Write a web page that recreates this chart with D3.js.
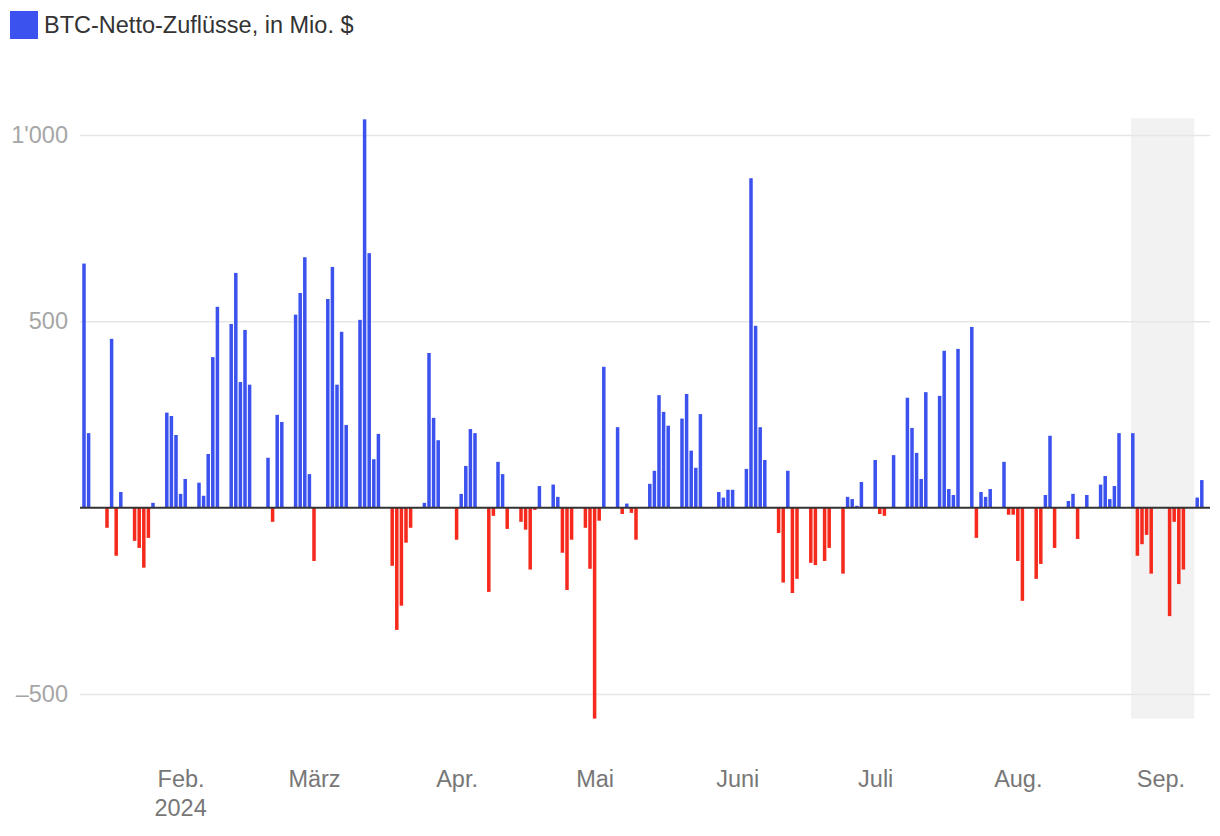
<!DOCTYPE html>
<html>
<head>
<meta charset="utf-8">
<script src="https://cdn.jsdelivr.net/npm/d3@7"></script>
<style>
  body { margin: 0; background: #fff; font-family: "Liberation Sans", Arial, sans-serif; }
</style>
</head>
<body>
<div class="bar-chart"></div>
<script>
// trading days (US spot BTC ETFs) and net flows in million $
var days = [
  "2024-01-11","2024-01-12","2024-01-16","2024-01-17","2024-01-18","2024-01-19",
  "2024-01-22","2024-01-23","2024-01-24","2024-01-25","2024-01-26",
  "2024-01-29","2024-01-30","2024-01-31","2024-02-01","2024-02-02",
  "2024-02-05","2024-02-06","2024-02-07","2024-02-08","2024-02-09",
  "2024-02-12","2024-02-13","2024-02-14","2024-02-15","2024-02-16",
  "2024-02-20","2024-02-21","2024-02-22","2024-02-23",
  "2024-02-26","2024-02-27","2024-02-28","2024-02-29","2024-03-01",
  "2024-03-04","2024-03-05","2024-03-06","2024-03-07","2024-03-08",
  "2024-03-11","2024-03-12","2024-03-13","2024-03-14","2024-03-15",
  "2024-03-18","2024-03-19","2024-03-20","2024-03-21","2024-03-22",
  "2024-03-25","2024-03-26","2024-03-27","2024-03-28",
  "2024-04-01","2024-04-02","2024-04-03","2024-04-04","2024-04-05",
  "2024-04-08","2024-04-09","2024-04-10","2024-04-11","2024-04-12",
  "2024-04-15","2024-04-16","2024-04-17","2024-04-18","2024-04-19",
  "2024-04-22","2024-04-23","2024-04-24","2024-04-25","2024-04-26",
  "2024-04-29","2024-04-30","2024-05-01","2024-05-02","2024-05-03",
  "2024-05-06","2024-05-07","2024-05-08","2024-05-09","2024-05-10",
  "2024-05-13","2024-05-14","2024-05-15","2024-05-16","2024-05-17",
  "2024-05-20","2024-05-21","2024-05-22","2024-05-23","2024-05-24",
  "2024-05-28","2024-05-29","2024-05-30","2024-05-31",
  "2024-06-03","2024-06-04","2024-06-05","2024-06-06","2024-06-07",
  "2024-06-10","2024-06-11","2024-06-12","2024-06-13","2024-06-14",
  "2024-06-17","2024-06-18","2024-06-20","2024-06-21",
  "2024-06-24","2024-06-25","2024-06-26","2024-06-27","2024-06-28",
  "2024-07-01","2024-07-02","2024-07-03","2024-07-05",
  "2024-07-08","2024-07-09","2024-07-10","2024-07-11","2024-07-12",
  "2024-07-15","2024-07-16","2024-07-17","2024-07-18","2024-07-19",
  "2024-07-22","2024-07-23","2024-07-24","2024-07-25","2024-07-26",
  "2024-07-29","2024-07-30","2024-07-31","2024-08-01","2024-08-02",
  "2024-08-05","2024-08-06","2024-08-07","2024-08-08","2024-08-09",
  "2024-08-12","2024-08-13","2024-08-14","2024-08-15","2024-08-16",
  "2024-08-19","2024-08-20","2024-08-21","2024-08-22","2024-08-23",
  "2024-08-26","2024-08-27","2024-08-28","2024-08-29","2024-08-30",
  "2024-09-03","2024-09-04","2024-09-05","2024-09-06",
  "2024-09-09","2024-09-10"
];
var flows = [
  655, 200, -54, 453, -129, 42,
  -89, -108, -161, -81, 13,
  255, 246, 195, 37, 77,
  67, 32, 144, 404, 539,
  493, 630, 337, 477, 330,
  134, -38, 249, 230,
  518, 576, 672, 90, -143,
  560, 646, 330, 472, 222,
  504, 1042, 683, 130, 198,
  -156, -328, -263, -94, -54,
  13, 415, 241, 181,
  -86, 37, 112, 211, 200,
  -226, -22, 123, 90, -57,
  -38, -59, -166, -6, 58,
  62, 29, -121, -221, -86,
  -54, -164, -566, -35, 378,
  216, -17, 11, -14, -86,
  64, 99, 302, 257, 220,
  239, 305, 153, 107, 251,
  42, 27, 48, 48,
  104, 884, 488, 216, 128,
  -68, -201, 99, -229, -191,
  -148, -154, -143, -108,
  -177, 29, 23, 5, 69,
  128, -17, -22, 141,
  295, 214, 147, 77, 310,
  300, 421, 50, 34, 426,
  485, -81, 42, 29, 50,
  123, -19, -19, -143, -250,
  -191, -151, 34, 193, -108,
  18, 37, -84, 0, 34,
  62, 85, 23, 58, 200,
  200, -129, -98, -73, -177,
  -291, -38, -205, -166,
  27, 74
];
var monthTicks = ["2024-02-01","2024-03-01","2024-04-01","2024-05-01","2024-06-01","2024-07-01","2024-08-01","2024-09-01"];
var monthLabels = ["Feb.", "März", "Apr.", "Mai", "Juni", "Juli", "Aug.", "Sep."];
var yTicks = [-500, 500, 1000];
var yTickLabels = ["\u2013500", "500", "1'000"];
var highlight = ["2024-08-26", "2024-09-08"];
var legendLabel = "BTC-Netto-Zuflüsse, in Mio. $";

var width = 1220;
var height = 836;
var plotLeft = 80;
var plotRight = 1210;
var barWidth = 3.5;
var fontSize = "23.5px";
var blue = "#3b52ef";
var red = "#f5291c";

var parseDay = d3.utcParse("%Y-%m-%d");
var data = days.map(function (d, i) { return { date: parseDay(d), value: flows[i] }; });

var svg = d3.select(".bar-chart")
  .append("svg")
  .attr("width", width)
  .attr("height", height)
  .style("display", "block");

// scales
var xScale = d3.scaleUtc()
  .domain([parseDay("2024-01-11"), parseDay("2024-09-10")])
  .range([84, 84 + 4.6 * 243]);

var yScale = d3.scaleLinear()
  .domain([-500, 1000])
  .range([694, 135]);

// highlighted period (shaded band over data extent)
var ext = d3.extent(flows);
svg.append("rect")
  .attr("x", xScale(parseDay(highlight[0])) - barWidth / 2)
  .attr("width", xScale(parseDay(highlight[1])) - xScale(parseDay(highlight[0])) + barWidth)
  .attr("y", yScale(ext[1]) - 1)
  .attr("height", yScale(ext[0]) - yScale(ext[1]) + 1)
  .attr("fill", "#f2f2f2");

// y gridlines + labels
var yAxis = d3.axisLeft(yScale)
  .tickValues(yTicks)
  .tickSize(-(plotRight - plotLeft))
  .tickPadding(12)
  .tickFormat(function (d, i) { return yTickLabels[i]; });

var gy = svg.append("g")
  .attr("transform", "translate(" + plotLeft + ",0)")
  .call(yAxis);
gy.select(".domain").remove();
gy.selectAll("line").attr("stroke", "#e6e6e6").attr("stroke-width", 1.5);
gy.selectAll("text")
  .attr("fill", "#a6a6a6")
  .style("font-family", "'Liberation Sans', Arial, sans-serif")
  .style("font-size", fontSize);

// bars
svg.selectAll(".bar")
  .data(data)
  .enter()
  .append("rect")
  .attr("class", "bar")
  .attr("x", function (d) { return xScale(d.date) - barWidth / 2; })
  .attr("width", barWidth)
  .attr("y", function (d) { return yScale(Math.max(0, d.value)); })
  .attr("height", function (d) { return Math.abs(yScale(d.value) - yScale(0)); })
  .attr("fill", function (d) { return d.value >= 0 ? blue : red; });

// zero line
svg.append("line")
  .attr("x1", plotLeft)
  .attr("x2", plotRight)
  .attr("y1", yScale(0))
  .attr("y2", yScale(0))
  .attr("stroke", "#333")
  .attr("stroke-width", 2);

// x axis month labels
var xAxis = d3.axisBottom(xScale)
  .tickValues(monthTicks.map(parseDay))
  .tickSize(0)
  .tickPadding(0)
  .tickFormat(function (d, i) { return monthLabels[i]; });

var gx = svg.append("g")
  .attr("transform", "translate(0,770)")
  .call(xAxis);
gx.select(".domain").remove();
gx.selectAll("text")
  .attr("fill", "#777")
  .style("font-family", "'Liberation Sans', Arial, sans-serif")
  .style("font-size", fontSize);

// year under first month
svg.append("text")
  .attr("x", xScale(parseDay(monthTicks[0])))
  .attr("y", 816)
  .attr("text-anchor", "middle")
  .attr("fill", "#777")
  .style("font-size", fontSize)
  .text("2024");

// legend
svg.append("rect")
  .attr("x", 10)
  .attr("y", 11)
  .attr("width", 28)
  .attr("height", 28)
  .attr("fill", blue);
svg.append("text")
  .attr("x", 44)
  .attr("y", 33)
  .attr("fill", "#333")
  .style("font-size", fontSize)
  .text(legendLabel);
</script>
</body>
</html>
